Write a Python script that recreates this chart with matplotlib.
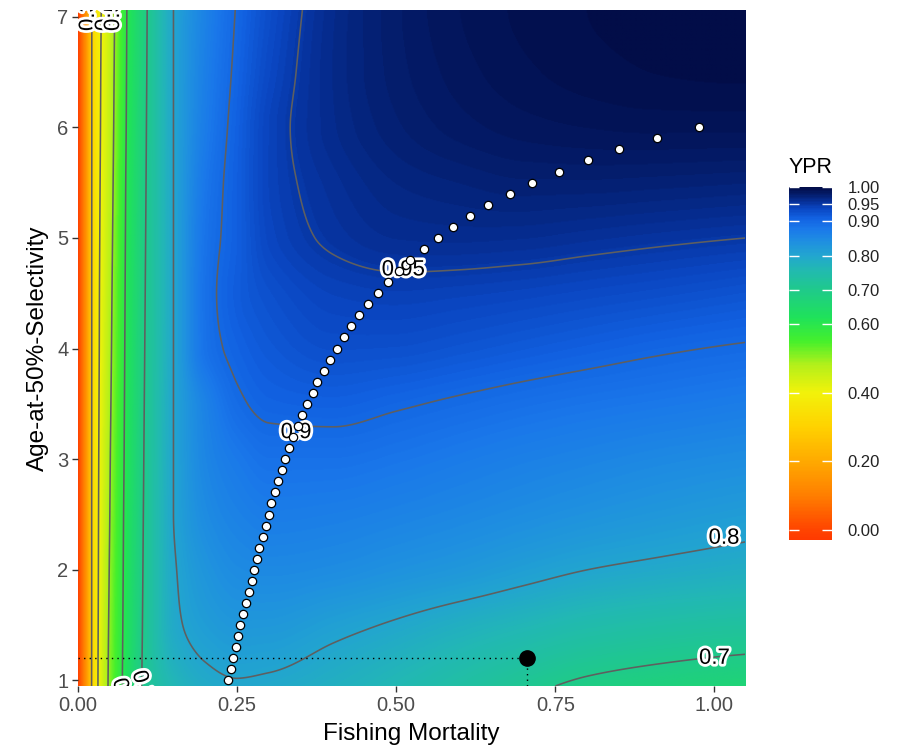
import matplotlib
matplotlib.use('Agg')
import matplotlib.pyplot as plt
import matplotlib.patheffects as pe
from matplotlib.colors import LinearSegmentedColormap, Normalize
import numpy as np

plt.rcParams['font.family'] = ['Liberation Sans', 'DejaVu Sans']

# relative yield-per-recruit table: rows = age-at-50%-selectivity, cols = F
f_grid = [0, 0.01, 0.025, 0.05, 0.075, 0.1, 0.15, 0.2, 0.25, 0.3, 0.4, 0.5, 0.6, 0.7, 0.8, 0.9, 1.05]
age_grid = [0.95, 1.5, 2.0, 2.5, 3.0, 3.5, 4.0, 4.5, 5.0, 5.5, 6.0, 6.5, 7.06]
ypr = [
    [0, 0.12, 0.345, 0.515, 0.620, 0.700, 0.763, 0.788, 0.796, 0.793, 0.779, 0.760, 0.737, 0.712, 0.690, 0.678, 0.665],
    [0, 0.12, 0.343, 0.510, 0.617, 0.697, 0.790, 0.815, 0.825, 0.824, 0.810, 0.796, 0.780, 0.765, 0.750, 0.740, 0.730],
    [0, 0.12, 0.342, 0.505, 0.615, 0.695, 0.795, 0.830, 0.846, 0.850, 0.845, 0.835, 0.825, 0.812, 0.800, 0.792, 0.782],
    [0, 0.12, 0.342, 0.500, 0.613, 0.693, 0.800, 0.845, 0.862, 0.870, 0.867, 0.860, 0.852, 0.843, 0.834, 0.826, 0.815],
    [0, 0.12, 0.341, 0.496, 0.610, 0.691, 0.800, 0.855, 0.876, 0.887, 0.887, 0.881, 0.873, 0.865, 0.858, 0.851, 0.843],
    [0, 0.12, 0.340, 0.491, 0.608, 0.689, 0.800, 0.862, 0.895, 0.906, 0.909, 0.903, 0.896, 0.889, 0.883, 0.878, 0.870],
    [0, 0.12, 0.339, 0.486, 0.606, 0.687, 0.800, 0.886, 0.907, 0.918, 0.928, 0.927, 0.922, 0.916, 0.910, 0.904, 0.897],
    [0, 0.12, 0.339, 0.482, 0.604, 0.685, 0.800, 0.888, 0.914, 0.927, 0.940, 0.943, 0.941, 0.938, 0.934, 0.930, 0.923],
    [0, 0.12, 0.338, 0.477, 0.602, 0.683, 0.800, 0.885, 0.912, 0.937, 0.953, 0.960, 0.961, 0.960, 0.957, 0.954, 0.950],
    [0, 0.12, 0.337, 0.472, 0.600, 0.681, 0.800, 0.880, 0.912, 0.940, 0.958, 0.968, 0.972, 0.975, 0.975, 0.974, 0.972],
    [0, 0.12, 0.336, 0.467, 0.597, 0.679, 0.800, 0.872, 0.910, 0.940, 0.963, 0.975, 0.982, 0.986, 0.988, 0.989, 0.989],
    [0, 0.12, 0.336, 0.463, 0.595, 0.677, 0.800, 0.867, 0.906, 0.935, 0.964, 0.978, 0.986, 0.991, 0.994, 0.996, 0.997],
    [0, 0.12, 0.335, 0.458, 0.593, 0.675, 0.800, 0.862, 0.902, 0.930, 0.963, 0.979, 0.988, 0.993, 0.996, 0.998, 1.000],
]

# F at maximum YPR for each age-at-50%-selectivity
opt_age = [1.0, 1.1, 1.2, 1.3, 1.4, 1.5, 1.6, 1.7, 1.8, 1.9,
           2.0, 2.1, 2.2, 2.3, 2.4, 2.5, 2.6, 2.7, 2.8, 2.9,
           3.0, 3.1, 3.2, 3.3, 3.4, 3.5, 3.6, 3.7, 3.8, 3.9,
           4.0, 4.1, 4.2, 4.3, 4.4, 4.5, 4.6, 4.7, 4.8, 4.9,
           5.0, 5.1, 5.2, 5.3, 5.4, 5.5, 5.6, 5.7, 5.8, 5.9, 6.0]
opt_f = [0.236, 0.240, 0.244, 0.248, 0.251, 0.255, 0.260, 0.264, 0.268, 0.273,
         0.277, 0.281, 0.285, 0.290, 0.295, 0.300, 0.304, 0.310, 0.315, 0.320,
         0.326, 0.332, 0.338, 0.345, 0.352, 0.360, 0.369, 0.376, 0.386, 0.396,
         0.407, 0.418, 0.429, 0.441, 0.455, 0.471, 0.487, 0.504, 0.522, 0.543,
         0.565, 0.589, 0.616, 0.644, 0.678, 0.714, 0.755, 0.801, 0.850, 0.909, 0.975]

# current fishery
cur_f = 0.705
cur_age = 1.2

levels = [0.3, 0.4, 0.5, 0.6, 0.7, 0.8, 0.9, 0.95]
bar_ticks = [0.0, 0.2, 0.4, 0.6, 0.7, 0.8, 0.9, 0.95, 1.0]

# colour scale
lo, hi = -0.03, 1.0
nodes = [(-0.03, '#ff3a00'), (0.0, '#ff4500'), (0.1, '#ff7f00'), (0.2, '#ffaa00'),
         (0.3, '#ffd200'), (0.4, '#f2f20a'), (0.48, '#b4f01a'), (0.55, '#45f02c'),
         (0.62, '#1fe25a'), (0.7, '#1fca8a'), (0.76, '#22b9b2'), (0.80, '#22a6cf'),
         (0.84, '#1f90e0'), (0.88, '#1a78ea'), (0.91, '#1262e2'), (0.94, '#0a45c0'),
         (0.96, '#062f96'), (0.98, '#041d6c'), (1.0, '#020d48')]
cmap = LinearSegmentedColormap.from_list(
    'ypr', [((v - lo) / (hi - lo), c) for v, c in nodes])
norm = Normalize(vmin=lo, vmax=hi)


def pchip(x, y, xn):
    # shape preserving cubic through the table values
    x = np.asarray(x, float)
    y = np.asarray(y, float)
    h = np.diff(x)
    d = np.diff(y) / h
    m = np.zeros_like(y)
    for k in range(1, len(x) - 1):
        if d[k - 1] * d[k] > 0:
            w1 = 2 * h[k] + h[k - 1]
            w2 = h[k] + 2 * h[k - 1]
            m[k] = (w1 + w2) / (w1 / d[k - 1] + w2 / d[k])
    m[0] = ((2 * h[0] + h[1]) * d[0] - h[0] * d[1]) / (h[0] + h[1])
    if np.sign(m[0]) != np.sign(d[0]):
        m[0] = 0
    m[-1] = ((2 * h[-1] + h[-2]) * d[-1] - h[-1] * d[-2]) / (h[-1] + h[-2])
    if np.sign(m[-1]) != np.sign(d[-1]):
        m[-1] = 0
    i = np.clip(np.searchsorted(x, xn) - 1, 0, len(x) - 2)
    t = (xn - x[i]) / h[i]
    return ((2 * t**3 - 3 * t**2 + 1) * y[i] + (t**3 - 2 * t**2 + t) * h[i] * m[i]
            + (-2 * t**3 + 3 * t**2) * y[i + 1] + (t**3 - t**2) * h[i] * m[i + 1])


table = np.array(ypr)
fx = np.linspace(f_grid[0], f_grid[-1], 700)
ay = np.linspace(age_grid[0], age_grid[-1], 700)
rows = np.array([pchip(f_grid, r, fx) for r in table])
Z = np.array([pchip(age_grid, rows[:, j], ay) for j in range(len(fx))]).T
FX, AY = np.meshgrid(fx, ay)

fig = plt.figure(figsize=(8.97, 7.51), dpi=100)
ax = fig.add_axes([78 / 897, 1 - 686 / 751, (745 - 78) / 897, (686 - 10) / 751])

im = ax.imshow(Z, origin='lower', extent=(fx[0], fx[-1], ay[0], ay[-1]),
               aspect='auto', cmap=cmap, norm=norm, interpolation='bilinear')
ax.contour(FX, AY, Z, levels=levels, colors='#5f5f5f', linewidths=1.15)

halo = [pe.withStroke(linewidth=4, foreground='white')]
main_labels = [('0.95', 0.511, 4.71), ('0.9', 0.3425, 3.24),
               ('0.8', 1.015, 2.285), ('0.7', 1.0, 1.2)]
for txt, x, y in main_labels:
    ax.text(x, y, txt, fontsize=16, ha='center', va='center',
            path_effects=halo, zorder=4)

# labels cut by the panel edges
for txt, x in [('0.3', 0.0165), ('0.4', 0.0417), ('0.5', 0.0559)]:
    ax.text(x, 6.87, txt, fontsize=16, rotation=90, ha='center', va='bottom',
            path_effects=halo, zorder=4, clip_on=True)
for txt, x, y in [('0.6', 0.069, 1.04), ('0.7', 0.100, 1.11)]:
    ax.text(x, y, txt, fontsize=16, rotation=-75, ha='center', va='top',
            path_effects=halo, zorder=4, clip_on=True)

# current fishery reference lines and point
ax.hlines(cur_age, 0, cur_f, colors='black', linestyles=(0, (1, 3)), linewidth=1, zorder=5)
ax.vlines(cur_f, 0.95, cur_age, colors='black', linestyles=(0, (1, 3)), linewidth=1, zorder=5)
ax.plot(cur_f, cur_age, 'o', color='black', markersize=11, zorder=6)

# eumetric curve
ax.plot(opt_f, opt_age, 'o', markersize=6, markerfacecolor='white',
        markeredgecolor='black', markeredgewidth=0.9, linestyle='none', zorder=7)

ax.set_xlim(0, 1.048)
ax.set_ylim(0.95, 7.06)
for s in ax.spines.values():
    s.set_visible(False)
ax.set_xticks([0, 0.25, 0.5, 0.75, 1.0])
ax.set_xticklabels(['0.00', '0.25', '0.50', '0.75', '1.00'])
ax.set_yticks([1, 2, 3, 4, 5, 6, 7])
ax.tick_params(axis='both', length=4, width=1, color='#333333',
               labelcolor='#4d4d4d', labelsize=14.5, pad=3)
ax.set_xlabel('Fishing Mortality', fontsize=17.5, labelpad=6)
ax.set_ylabel('Age-at-50%-Selectivity', fontsize=17.5, labelpad=6)

# colour bar
cax = fig.add_axes([789 / 897, 1 - 540 / 751, 43 / 897, (540 - 187) / 751])
cb = fig.colorbar(im, cax=cax, ticks=bar_ticks)
cb.outline.set_visible(False)
cb.ax.set_yticklabels(['%.2f' % t for t in bar_ticks])
cax.tick_params(axis='y', direction='in', length=7, width=1, color='white',
                left=True, right=True, labelsize=12, labelcolor='#222222', pad=11)
cax.set_title('YPR', loc='left', fontsize=15.5, pad=10)

fig.savefig('out.png', dpi=100)
